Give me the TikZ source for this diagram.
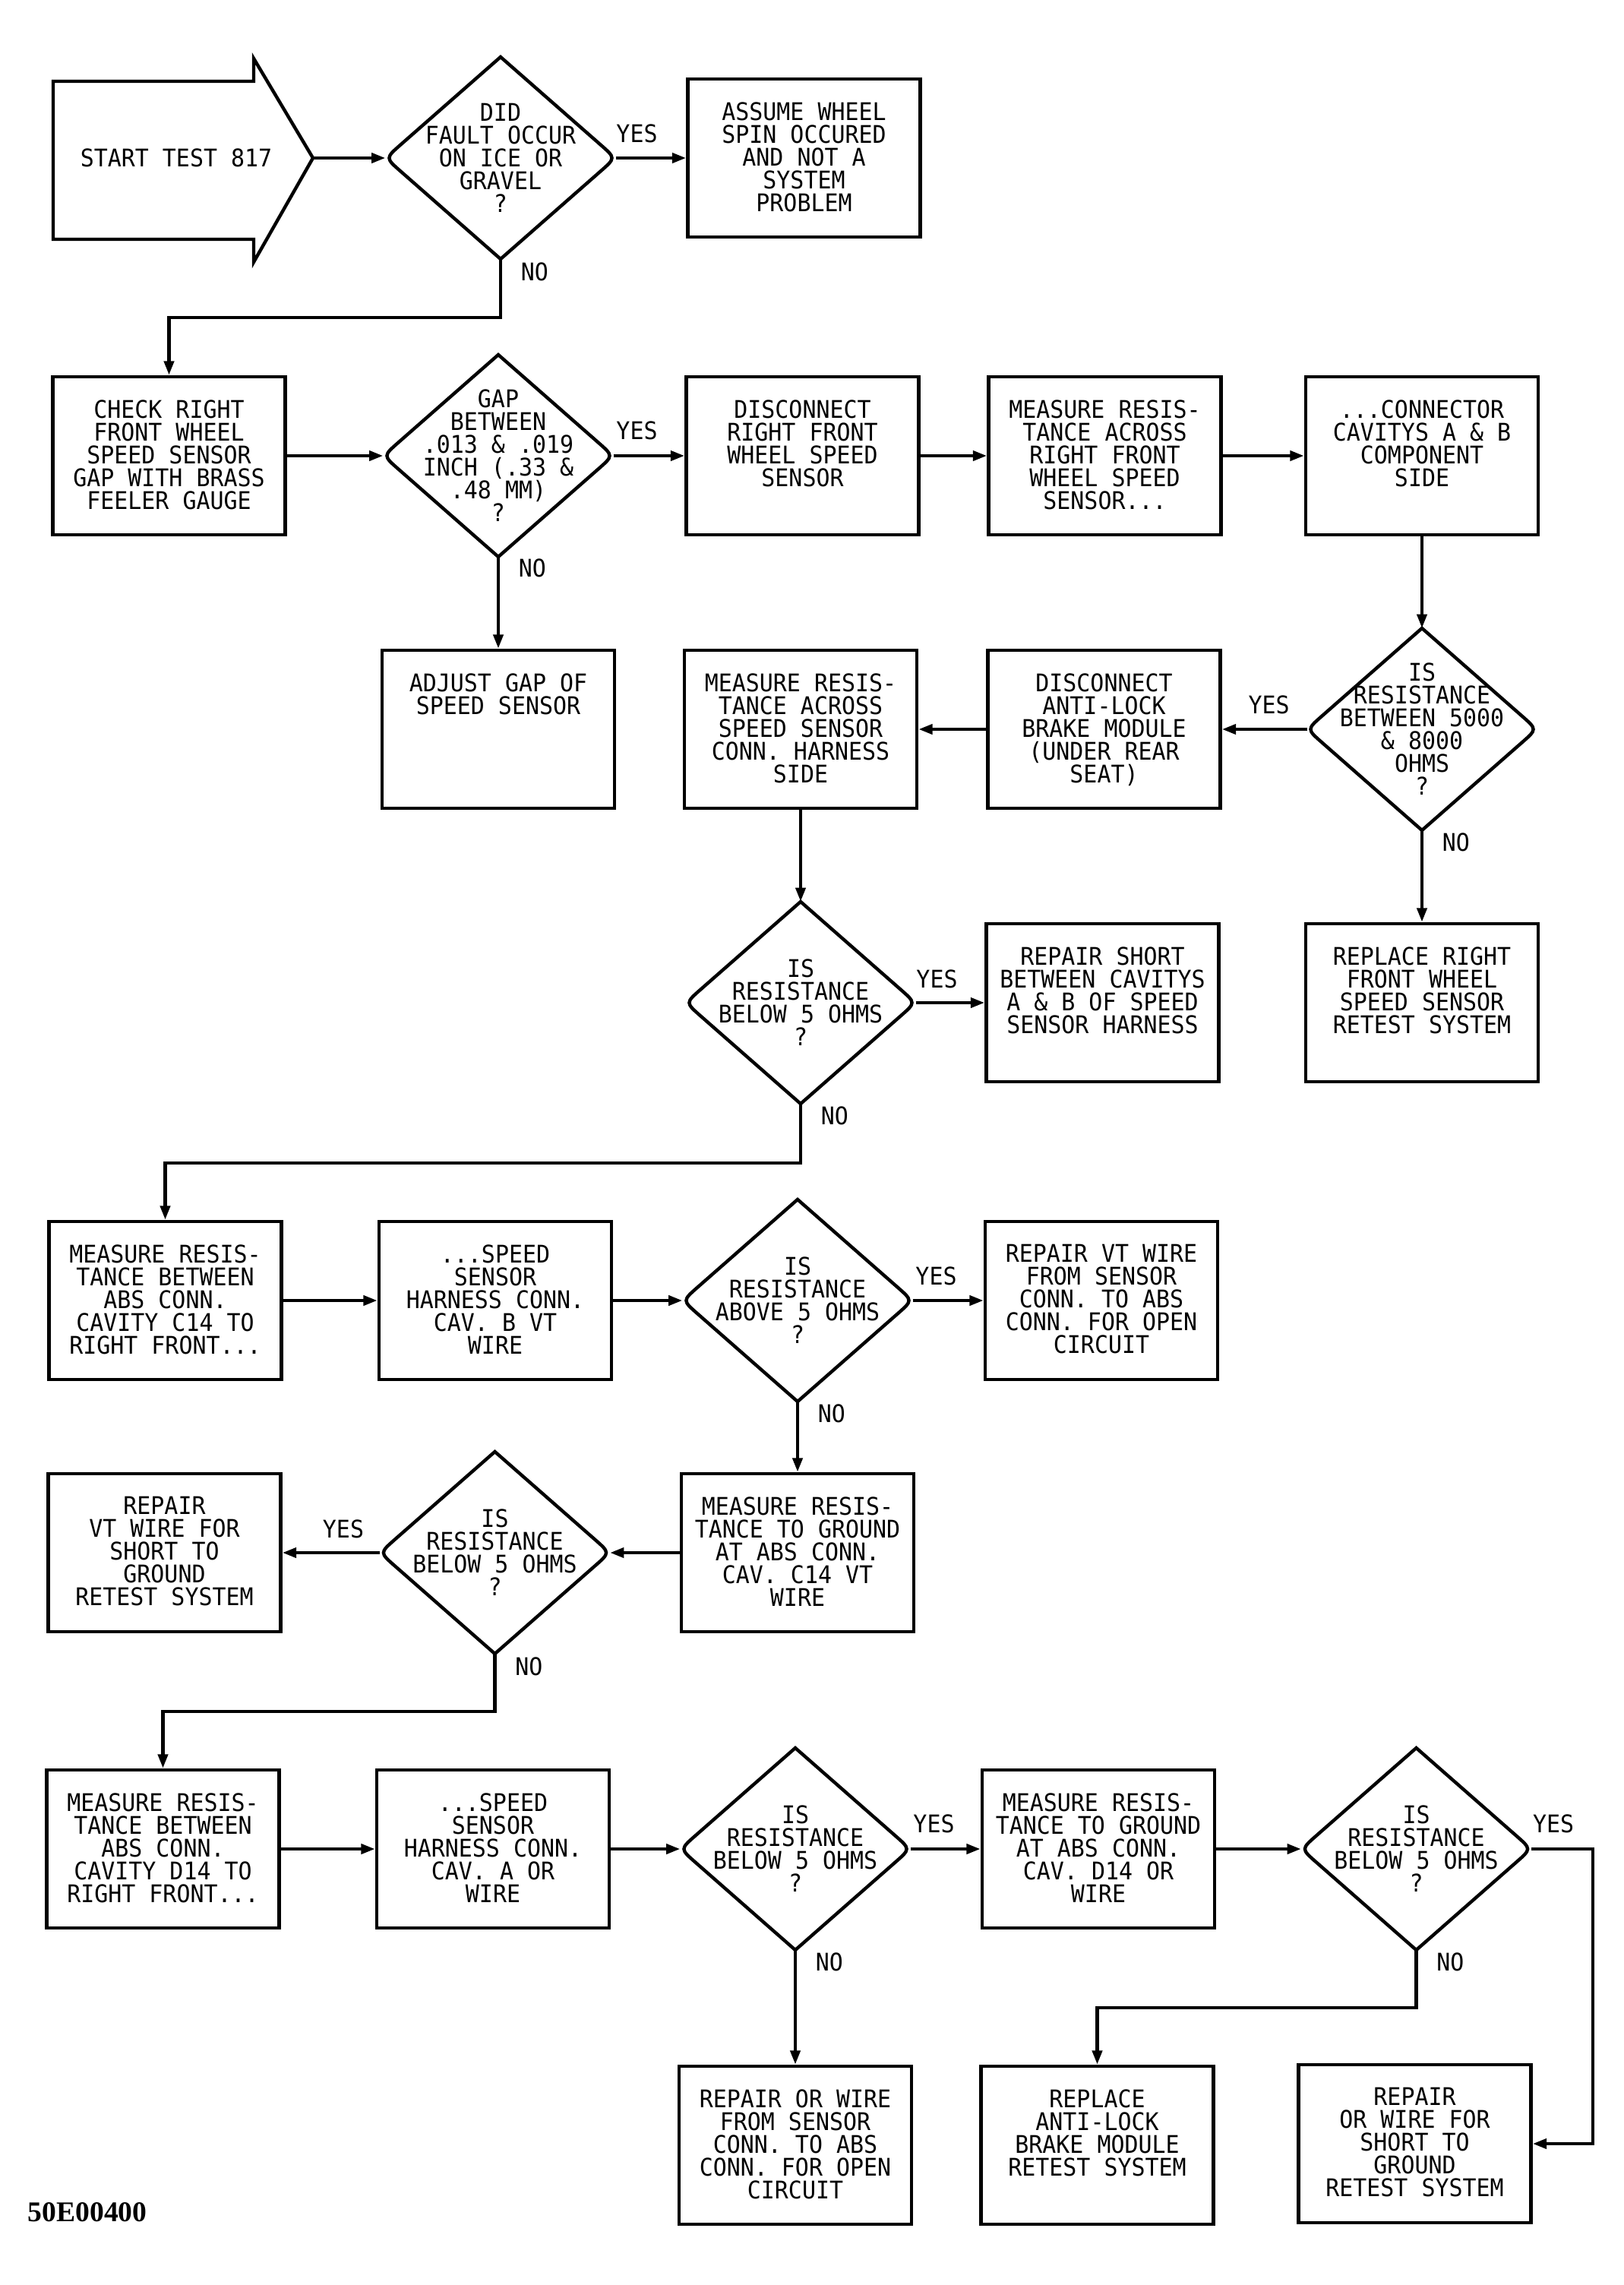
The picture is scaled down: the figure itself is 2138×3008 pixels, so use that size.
\documentclass[tikz,border=0pt]{standalone}
\usepackage{fontspec}
\setmainfont{DejaVu Sans Mono}[FakeStretch=0.935]
\newfontfamily\codefont{Liberation Serif}
\usetikzlibrary{arrows.meta,calc}
\tikzset{
  box/.style={draw, line width=1.1pt, minimum width=76.5pt, minimum height=52pt, inner sep=0pt,
    execute at begin node={\begin{minipage}[c][52pt][t]{76.5pt}\centering\vspace*{7.6pt}},
    execute at end node={\end{minipage}}},
  dia/.style={minimum width=75.75pt, minimum height=66.5pt, inner sep=0pt, outer sep=0pt, align=center},
  lbl/.style={inner sep=0pt},
  conn/.style={line width=1.1pt, -{Triangle[length=4.6pt,width=3.2pt]}},
}
\begin{document}
\begin{tikzpicture}[x=0.25pt, y=-0.25pt, every node/.style={font=\fontsize{8}{7.5}\selectfont}]
    \useasboundingbox (0,0) rectangle (2138,3008);
    \draw[line width=1.1pt] (70,107) -- (334,107) -- (334,77) -- (412,208) -- (334,345) -- (334,315) -- (70,315) -- cycle;
    \node (start) at (232,208) {START TEST 817};
    \coordinate (tip) at (412,208);

    \node[dia] (q1) at (659,208) {DID\\FAULT OCCUR\\ON ICE OR\\GRAVEL\\?};
    \node[box] (assume) at (1058.5,208) {ASSUME WHEEL\\SPIN OCCURED\\AND NOT A\\SYSTEM\\PROBLEM};

    \node[box] (check) at (222.5,600) {CHECK RIGHT\\FRONT WHEEL\\SPEED SENSOR\\GAP WITH BRASS\\FEELER GAUGE};
    \node[dia] (q2) at (656,600) {GAP\\BETWEEN\\.013 \& .019\\INCH (.33 \&\\.48 MM)\\?};
    \node[box] (disc) at (1056.5,600) {DISCONNECT\\RIGHT FRONT\\WHEEL SPEED\\SENSOR};
    \node[box] (meas1) at (1454.5,600) {MEASURE RESIS-\\TANCE ACROSS\\RIGHT FRONT\\WHEEL SPEED\\SENSOR...};
    \node[box] (cavab) at (1872,600) {...CONNECTOR\\CAVITYS A \& B\\COMPONENT\\SIDE};

    \node[box] (adjust) at (656,960) {ADJUST GAP OF\\SPEED SENSOR};
    \node[box] (measx) at (1054,960) {MEASURE RESIS-\\TANCE ACROSS\\SPEED SENSOR\\CONN. HARNESS\\SIDE};
    \node[box] (disc2) at (1453.5,960) {DISCONNECT\\ANTI-LOCK\\BRAKE MODULE\\(UNDER REAR\\SEAT)};
    \node[dia] (q3) at (1872,960) {IS\\RESISTANCE\\BETWEEN 5000\\\& 8000\\OHMS\\?};

    \node[dia] (q4) at (1054,1320) {IS\\RESISTANCE\\BELOW 5 OHMS\\?};
    \node[box] (rshort) at (1451.5,1320) {REPAIR SHORT\\BETWEEN CAVITYS\\A \& B OF SPEED\\SENSOR HARNESS};
    \node[box] (rrf) at (1872,1320) {REPLACE RIGHT\\FRONT WHEEL\\SPEED SENSOR\\RETEST SYSTEM};

    \node[box] (mc14) at (217.5,1712) {MEASURE RESIS-\\TANCE BETWEEN\\ABS CONN.\\CAVITY C14 TO\\RIGHT FRONT...};
    \node[box] (sb) at (652,1712) {...SPEED\\SENSOR\\HARNESS CONN.\\CAV. B VT\\WIRE};
    \node[dia] (q5) at (1050,1712) {IS\\RESISTANCE\\ABOVE 5 OHMS\\?};
    \node[box] (rvt) at (1450,1712) {REPAIR VT WIRE\\FROM SENSOR\\CONN. TO ABS\\CONN. FOR OPEN\\CIRCUIT};

    \node[box] (rvts) at (216.5,2044) {REPAIR\\VT WIRE FOR\\SHORT TO\\GROUND\\RETEST SYSTEM};
    \node[dia] (q6) at (651.5,2044) {IS\\RESISTANCE\\BELOW 5 OHMS\\?};
    \node[box] (mg14) at (1050,2044) {MEASURE RESIS-\\TANCE TO GROUND\\AT ABS CONN.\\CAV. C14 VT\\WIRE};

    \node[box] (md14) at (214.5,2434) {MEASURE RESIS-\\TANCE BETWEEN\\ABS CONN.\\CAVITY D14 TO\\RIGHT FRONT...};
    \node[box] (sa) at (649,2434) {...SPEED\\SENSOR\\HARNESS CONN.\\CAV. A OR\\WIRE};
    \node[dia] (q7) at (1047,2434) {IS\\RESISTANCE\\BELOW 5 OHMS\\?};
    \node[box] (mgd) at (1446,2434) {MEASURE RESIS-\\TANCE TO GROUND\\AT ABS CONN.\\CAV. D14 OR\\WIRE};
    \node[dia] (q8) at (1864.5,2434) {IS\\RESISTANCE\\BELOW 5 OHMS\\?};

    \node[box] (row) at (1047,2824) {REPAIR OR WIRE\\FROM SENSOR\\CONN. TO ABS\\CONN. FOR OPEN\\CIRCUIT};
    \node[box] (rabs) at (1444.5,2824) {REPLACE\\ANTI-LOCK\\BRAKE MODULE\\RETEST SYSTEM};
    \node[box] (rows) at (1862.5,2822) {REPAIR\\OR WIRE FOR\\SHORT TO\\GROUND\\RETEST SYSTEM};

    \node[anchor=west, inner sep=0pt, font=\codefont\bfseries\fontsize{9.4}{10}\selectfont] (code) at (36,2912) {50E00400};

    \foreach \d in {q1,q2,q3,q4,q5,q6,q7,q8}
      \draw[line width=1.1pt] (\d.north) -- ($(\d.east)!0.13!(\d.north)$) .. controls (\d.east) .. ($(\d.east)!0.13!(\d.south)$)
        -- (\d.south) -- ($(\d.west)!0.13!(\d.south)$) .. controls (\d.west) .. ($(\d.west)!0.13!(\d.north)$) -- cycle;

    \draw[conn] (tip) -- (q1.west);
    \draw[conn] (q1.east) -- (assume.west);
    \draw[conn] (q1.south) -- ++(0,77) -| (check.north);
    \draw[conn] (check.east) -- (q2.west);
    \draw[conn] (q2.east) -- (disc.west);
    \draw[conn] (q2.south) -- (adjust.north);
    \draw[conn] (disc.east) -- (meas1.west);
    \draw[conn] (meas1.east) -- (cavab.west);
    \draw[conn] (cavab.south) -- (q3.north);
    \draw[conn] (q3.west) -- (disc2.east);
    \draw[conn] (disc2.west) -- (measx.east);
    \draw[conn] (q3.south) -- (rrf.north);
    \draw[conn] (measx.south) -- (q4.north);
    \draw[conn] (q4.east) -- (rshort.west);
    \draw[conn] (q4.south) -- ++(0,78) -| (mc14.north);
    \draw[conn] (mc14.east) -- (sb.west);
    \draw[conn] (sb.east) -- (q5.west);
    \draw[conn] (q5.east) -- (rvt.west);
    \draw[conn] (q5.south) -- (mg14.north);
    \draw[conn] (mg14.west) -- (q6.east);
    \draw[conn] (q6.west) -- (rvts.east);
    \draw[conn] (q6.south) -- ++(0,76) -| (md14.north);
    \draw[conn] (md14.east) -- (sa.west);
    \draw[conn] (sa.east) -- (q7.west);
    \draw[conn] (q7.east) -- (mgd.west);
    \draw[conn] (q7.south) -- (row.north);
    \draw[conn] (mgd.east) -- (q8.west);
    \draw[conn] (q8.south) -- ++(0,76) -| (rabs.north);
    \draw[conn] (q8.east) -- ++(81,0) |- (rows.east);

    \node[lbl] (y1) at ([shift={(28,-32)}]q1.east) {YES};
    \node[lbl] (y2) at ([shift={(31,-33)}]q2.east) {YES};
    \node[lbl] (y3) at ([shift={(-50,-32)}]q3.west) {YES};
    \node[lbl] (y4) at ([shift={(28,-31)}]q4.east) {YES};
    \node[lbl] (y5) at ([shift={(31,-32)}]q5.east) {YES};
    \node[lbl] (y6) at ([shift={(-48,-31)}]q6.west) {YES};
    \node[lbl] (y7) at ([shift={(31,-33)}]q7.east) {YES};
    \node[lbl] (y8) at ([shift={(29,-33)}]q8.east) {YES};

    \node[lbl, anchor=west] (n1) at ([shift={(26,17)}]q1.south) {NO};
    \node[lbl, anchor=west] (n2) at ([shift={(26,15)}]q2.south) {NO};
    \node[lbl, anchor=west] (n3) at ([shift={(26,16)}]q3.south) {NO};
    \node[lbl, anchor=west] (n4) at ([shift={(26,16)}]q4.south) {NO};
    \node[lbl, anchor=west] (n5) at ([shift={(26,16)}]q5.south) {NO};
    \node[lbl, anchor=west] (n6) at ([shift={(26,17)}]q6.south) {NO};
    \node[lbl, anchor=west] (n7) at ([shift={(26,16)}]q7.south) {NO};
    \node[lbl, anchor=west] (n8) at ([shift={(26,16)}]q8.south) {NO};
\end{tikzpicture}
\end{document}
